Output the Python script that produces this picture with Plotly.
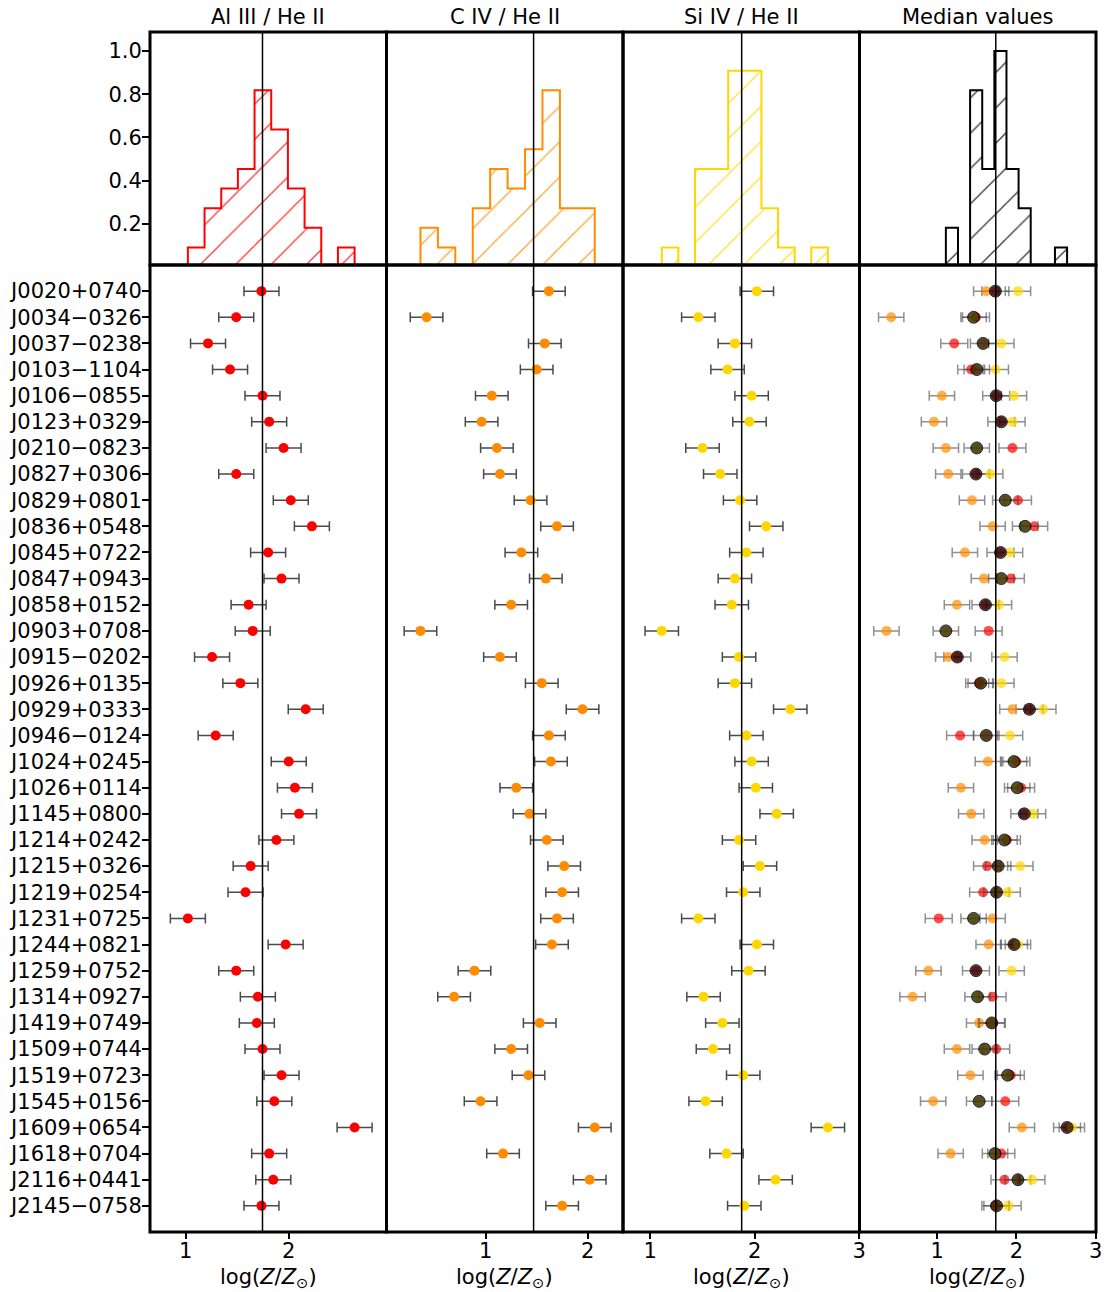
import numpy as np
import plotly.graph_objects as go
from plotly.subplots import make_subplots

# Object names (rows of the lower panels)
objects = [
    "J0020+0740", "J0034−0326", "J0037−0238", "J0103−1104", "J0106−0855",
    "J0123+0329", "J0210−0823", "J0827+0306", "J0829+0801", "J0836+0548",
    "J0845+0722", "J0847+0943", "J0858+0152", "J0903+0708", "J0915−0202",
    "J0926+0135", "J0929+0333", "J0946−0124", "J1024+0245", "J1026+0114",
    "J1145+0800", "J1214+0242", "J1215+0326", "J1219+0254", "J1231+0725",
    "J1244+0821", "J1259+0752", "J1314+0927", "J1419+0749", "J1509+0744",
    "J1519+0723", "J1545+0156", "J1609+0654", "J1618+0704", "J2116+0441",
    "J2145−0758",
]

# Metallicity estimates log(Z/Zsun) from each line ratio
al3_he2 = [1.735, 1.49, 1.216, 1.43, 1.745, 1.81, 1.95, 1.49, 2.02, 2.225,
           1.80, 1.93, 1.61, 1.65, 1.255, 1.53, 2.165, 1.29, 2.00, 2.06,
           2.10, 1.88, 1.63, 1.58, 1.02, 1.97, 1.49, 1.70, 1.69, 1.745,
           1.93, 1.86, 2.64, 1.81, 1.85, 1.735]
c4_he2 = [1.62, 0.42, 1.58, 1.50, 1.06, 0.96, 1.11, 1.14, 1.44, 1.70,
          1.35, 1.59, 1.25, 0.36, 1.14, 1.55, 1.95, 1.62, 1.64, 1.30,
          1.43, 1.60, 1.77, 1.75, 1.70, 1.65, 0.89, 0.69, 1.53, 1.25,
          1.42, 0.95, 2.07, 1.17, 2.02, 1.75]
si4_he2 = [2.02, 1.46, 1.81, 1.74, 1.97, 1.95, 1.50, 1.67, 1.86, 2.11,
           1.92, 1.81, 1.78, 1.11, 1.85, 1.81, 2.34, 1.92, 1.97, 2.01,
           2.21, 1.85, 2.05, 1.89, 1.46, 2.02, 1.94, 1.51, 1.69, 1.60,
           1.89, 1.53, 2.70, 1.73, 2.20, 1.90]

# Uncertainties (dex)
AL3_ERR = 0.17
C4_ERR = 0.16
SI4_ERR = 0.16

panel_titles = ["Al III / He II", "C IV / He II", "Si IV / He II", "Median values"]
hist_ticks = [0.2, 0.4, 0.6, 0.8, 1.0]
x_ranges = [[0.652, 2.95], [0.027, 2.347], [0.739, 3.003], [0.02, 3.005]]
N_BINS = 10

FONT = "DejaVu Sans"
FS = 21

series = [
    (np.array(al3_he2), AL3_ERR, "#ff0000"),
    (np.array(c4_he2), C4_ERR, "#ff8c00"),
    (np.array(si4_he2), SI4_ERR, "#ffd700"),
]
stack = np.vstack([s[0] for s in series])
medians = np.median(stack, axis=0)

# Histograms are scaled by the tallest bin of the median distribution
med_counts, _ = np.histogram(medians, bins=N_BINS)
norm = med_counts.max()

fig = make_subplots(rows=2, cols=4, horizontal_spacing=0, vertical_spacing=0,
                    row_heights=[233 / 1200, 967 / 1200])

rows_idx = np.arange(len(objects))


def add_hist(values, color, col):
    counts, edges = np.histogram(values, bins=N_BINS)
    heights = counts / norm
    centers = 0.5 * (edges[:-1] + edges[1:])
    width = edges[1] - edges[0]
    fig.add_trace(go.Bar(
        x=centers, y=heights, width=width,
        marker=dict(color=color, line=dict(width=0),
                    pattern=dict(shape="/", size=25, solidity=0.05,
                                 fgcolor=color, fgopacity=0.8,
                                 bgcolor="rgba(0,0,0,0)", fillmode="replace")),
        showlegend=False, hoverinfo="skip"), row=1, col=col)
    sx, sy = [edges[0]], [0.0]
    for i, h in enumerate(heights):
        sx += [edges[i], edges[i + 1]]
        sy += [h, h]
    sx.append(edges[-1])
    sy.append(0.0)
    fig.add_trace(go.Scatter(x=sx, y=sy, mode="lines",
                             line=dict(color=color, width=2),
                             showlegend=False, hoverinfo="skip"), row=1, col=col)


# Individual line-ratio panels
for c, (vals, err, color) in enumerate(series, start=1):
    add_hist(vals, color, c)
    fig.add_trace(go.Scatter(
        x=vals, y=rows_idx, mode="markers",
        marker=dict(color=color, size=10, line=dict(width=0)),
        error_x=dict(type="constant", value=err, color="#4a4a4a",
                     thickness=1.5, width=5),
        showlegend=False), row=2, col=c)

# Median panel: all three estimates plus the median of each object
add_hist(medians, "#000000", 4)
for vals, err, color in series:
    fig.add_trace(go.Scatter(
        x=vals, y=rows_idx, mode="markers",
        marker=dict(color=color, size=10, opacity=0.7, line=dict(width=0)),
        error_x=dict(type="constant", value=err, color="rgba(70,70,70,0.6)",
                     thickness=1.5, width=5),
        showlegend=False), row=2, col=4)
fig.add_trace(go.Scatter(
    x=medians, y=rows_idx, mode="markers",
    marker=dict(color="rgba(0,0,0,0.65)", size=12,
                line=dict(color="rgba(0,0,0,0.75)", width=1)),
    showlegend=False), row=2, col=4)

# Vertical lines at the median of each distribution
col_medians = [np.median(s[0]) for s in series] + [np.median(medians)]
for c, m in enumerate(col_medians, start=1):
    xref = "x" if c == 1 else f"x{c}"
    fig.add_shape(type="line", xref=xref, yref="paper", x0=m, x1=m, y0=0, y1=1,
                  line=dict(color="black", width=1.5), layer="above")

# Panel frames
for k in range(1, 9):
    sfx = "" if k == 1 else str(k)
    fig.add_shape(type="rect", xref=f"x{sfx} domain", yref=f"y{sfx} domain",
                  x0=0, x1=1, y0=0, y1=1, line=dict(color="black", width=3),
                  fillcolor="rgba(0,0,0,0)", layer="above")

axis_common = dict(showline=False, showgrid=False, zeroline=False, automargin=False)
tickfont = dict(family=FONT, size=FS, color="black")

for c in range(1, 5):
    fig.update_xaxes(range=x_ranges[c - 1], showticklabels=False, ticks="",
                     row=1, col=c, **axis_common)
    fig.update_xaxes(range=x_ranges[c - 1], tick0=0, dtick=1, ticks="outside",
                     ticklen=6, tickwidth=1.5, tickcolor="black", tickfont=tickfont,
                     ticklabelstandoff=-6, row=2, col=c, **axis_common)
    if c == 1:
        fig.update_yaxes(range=[0.01, 1.088], tickvals=hist_ticks,
                         ticktext=[f"{t:.1f}" for t in hist_ticks],
                         ticks="outside", ticklen=7, tickwidth=1.5,
                         tickcolor="black", tickfont=tickfont,
                         ticklabelstandoff=-4, row=1, col=c, **axis_common)
        fig.update_yaxes(range=[len(objects), -1], tickvals=list(rows_idx),
                         ticktext=objects, ticks="outside", ticklen=7,
                         tickwidth=1.5, tickcolor="black", tickfont=tickfont,
                         ticklabelstandoff=-4, row=2, col=c, **axis_common)
    else:
        fig.update_yaxes(range=[0.01, 1.088], showticklabels=False, ticks="",
                         row=1, col=c, **axis_common)
        fig.update_yaxes(range=[len(objects), -1], showticklabels=False, ticks="",
                         row=2, col=c, **axis_common)

annotations = []
for c in range(1, 5):
    xd = "x domain" if c == 1 else f"x{c} domain"
    annotations.append(dict(text=panel_titles[c - 1], xref=xd, x=0.5, yref="paper",
                            y=1, yanchor="bottom", yshift=1, showarrow=False,
                            font=dict(family=FONT, size=FS, color="black")))
    xd2 = f"x{c + 4} domain"
    annotations.append(dict(text="log(<i>Z</i>/<i>Z</i><sub>⊙</sub>)", xref=xd2,
                            x=0.5, yref="paper", y=0, yanchor="top", yshift=-31,
                            showarrow=False,
                            font=dict(family=FONT, size=FS, color="black")))

fig.update_layout(
    width=1114, height=1292,
    margin=dict(l=150, r=18, t=32, b=60),
    plot_bgcolor="white", paper_bgcolor="white",
    font=dict(family=FONT, size=FS, color="black"),
    annotations=annotations, showlegend=False, barmode="overlay",
)

fig.write_html("out.html")
